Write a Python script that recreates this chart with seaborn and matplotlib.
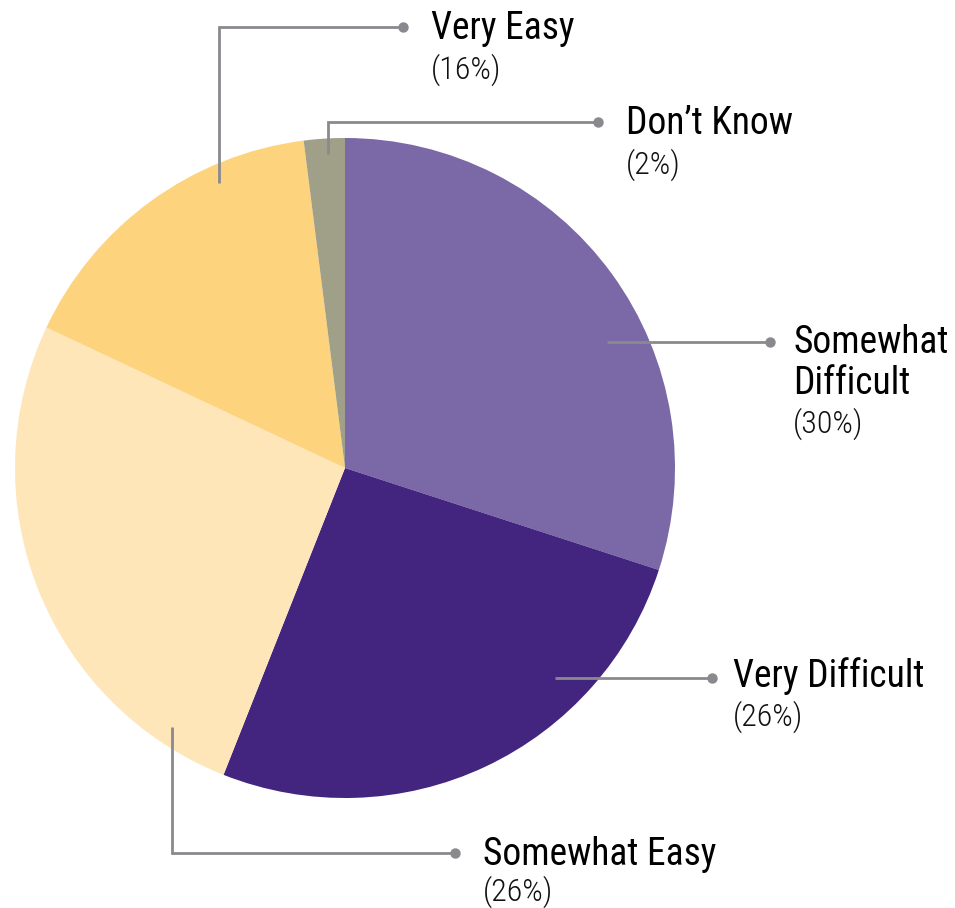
import matplotlib
matplotlib.use("Agg")
import matplotlib.pyplot as plt
from matplotlib import font_manager
import seaborn as sns

# Survey responses, listed clockwise from 12 o'clock
categories = ["Somewhat Difficult", "Very Difficult", "Somewhat Easy", "Very Easy", "Don\u2019t Know"]
shares = [30, 26, 26, 16, 2]
slice_colors = ["#7B68A6", "#43257F", "#FEE6B8", "#FED37D", "#A09F88"]
label_lines = [["Somewhat", "Difficult"], ["Very Difficult"], ["Somewhat Easy"], ["Very Easy"], ["Don\u2019t Know"]]

sns.set_theme(style="white")

installed = {f.name for f in font_manager.fontManager.ttflist}
family = next((f for f in ["Roboto Condensed", "Liberation Sans Narrow", "Liberation Sans"] if f in installed),
              "DejaVu Sans")
plt.rcParams["font.family"] = [family, "DejaVu Sans"]

W, H = 955, 908
fig = plt.figure(figsize=(W / 100, H / 100), dpi=100)
ax = fig.add_axes([0, 0, 1, 1])

# pixel-space axes with y growing downward; start at top and run clockwise on screen
ax.pie(shares, colors=slice_colors, startangle=-90, counterclock=True,
       center=(345, 468), radius=330, wedgeprops=dict(linewidth=0))
ax.set_xlim(0, W)
ax.set_ylim(H, 0)
ax.set_aspect("equal")
ax.axis("off")

line_color = "#8A8A8E"

# leader paths (pixel layout), text anchor (x, first baseline) and gap before the share line
leaders = {
    "Somewhat Difficult": ([(607, 342), (770, 342)], (793, 353), 39),
    "Very Difficult": ([(555, 678), (712, 678)], (733, 687), 39),
    "Somewhat Easy": ([(172, 727), (172, 853), (455, 853)], (483, 865), 36),
    "Very Easy": ([(219, 183), (219, 27), (403, 27)], (431, 39), 40),
    "Don\u2019t Know": ([(328, 154), (328, 122), (598, 122)], (626, 134), 40),
}

for cat, share, lines in zip(categories, shares, label_lines):
    path, (tx, ty), gap = leaders[cat]
    xs, ys = zip(*path)
    ax.plot(xs, ys, color=line_color, lw=2.0, solid_capstyle="butt", solid_joinstyle="miter")
    ax.plot(xs[-1], ys[-1], "o", color=line_color, ms=7.5, mec="none")
    y = ty
    for i, ln in enumerate(lines):
        if i:
            y += 41
        ax.text(tx, y, ln, fontsize=27, color="#000000", va="baseline", ha="left")
    ax.text(tx, y + gap, f"({share}%)", fontsize=23, fontweight="light",
            color="#111111", va="baseline", ha="left")

fig.savefig("out.png", dpi=100)
